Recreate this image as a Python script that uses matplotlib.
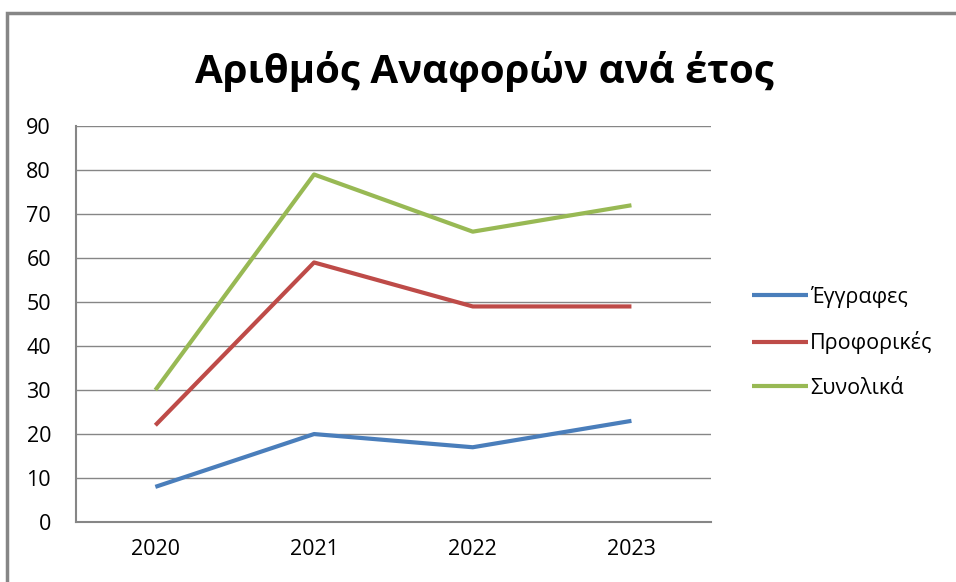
import matplotlib.pyplot as plt
from matplotlib.patches import Rectangle

years = ["2020", "2021", "2022", "2023"]
eggrafes = [8, 20, 17, 23]
proforikes = [22, 59, 49, 49]
synolika = [30, 79, 66, 72]

series_names = ["Έγγραφες", "Προφορικές", "Συνολικά"]
colors = ["#4a7ebb", "#be4b48", "#98b954"]

plt.rcParams['font.family'] = ['Open Sans', 'DejaVu Sans']

fig = plt.figure(figsize=(9.56, 5.82), dpi=100)
ax = fig.add_axes([0.0795, 0.103, 0.664, 0.6804])

x = range(len(years))
for vals, name, c in zip([eggrafes, proforikes, synolika], series_names, colors):
    ax.plot(x, vals, color=c, linewidth=3, label=name, solid_capstyle='butt')

ax.set_xlim(-0.5, 3.5)
ax.set_ylim(0, 90)
ax.set_yticks(range(0, 91, 10))
ax.set_xticks(list(x))
ax.set_xticklabels(years)
ax.tick_params(length=0, labelsize=15.5, colors='black')
ax.tick_params(axis='y', pad=18)
ax.tick_params(axis='x', pad=12)
ax.grid(axis='y', color='#868686', linewidth=1)
ax.set_axisbelow(True)
for side in ['top', 'right']:
    ax.spines[side].set_visible(False)
for side in ['left', 'bottom']:
    ax.spines[side].set_color('#868686')
    ax.spines[side].set_linewidth(1.5)

fig.text(0.507, 0.878, "Αριθμός Αναφορών ανά έτος", ha='center', va='center',
         fontsize=29, fontweight='bold')

leg = ax.legend(loc='center left', bbox_to_anchor=(1.034, 0.4545), frameon=False,
                fontsize=15.5, handlelength=2.6, handletextpad=0.12, labelspacing=1.09)

fig.patches.append(Rectangle((7 / 956, -0.1), 1.1, 1.1 - 13 / 582,
                             transform=fig.transFigure, fill=False,
                             edgecolor='#868686', linewidth=2.5, clip_on=False))

fig.savefig("out.png", dpi=100)
